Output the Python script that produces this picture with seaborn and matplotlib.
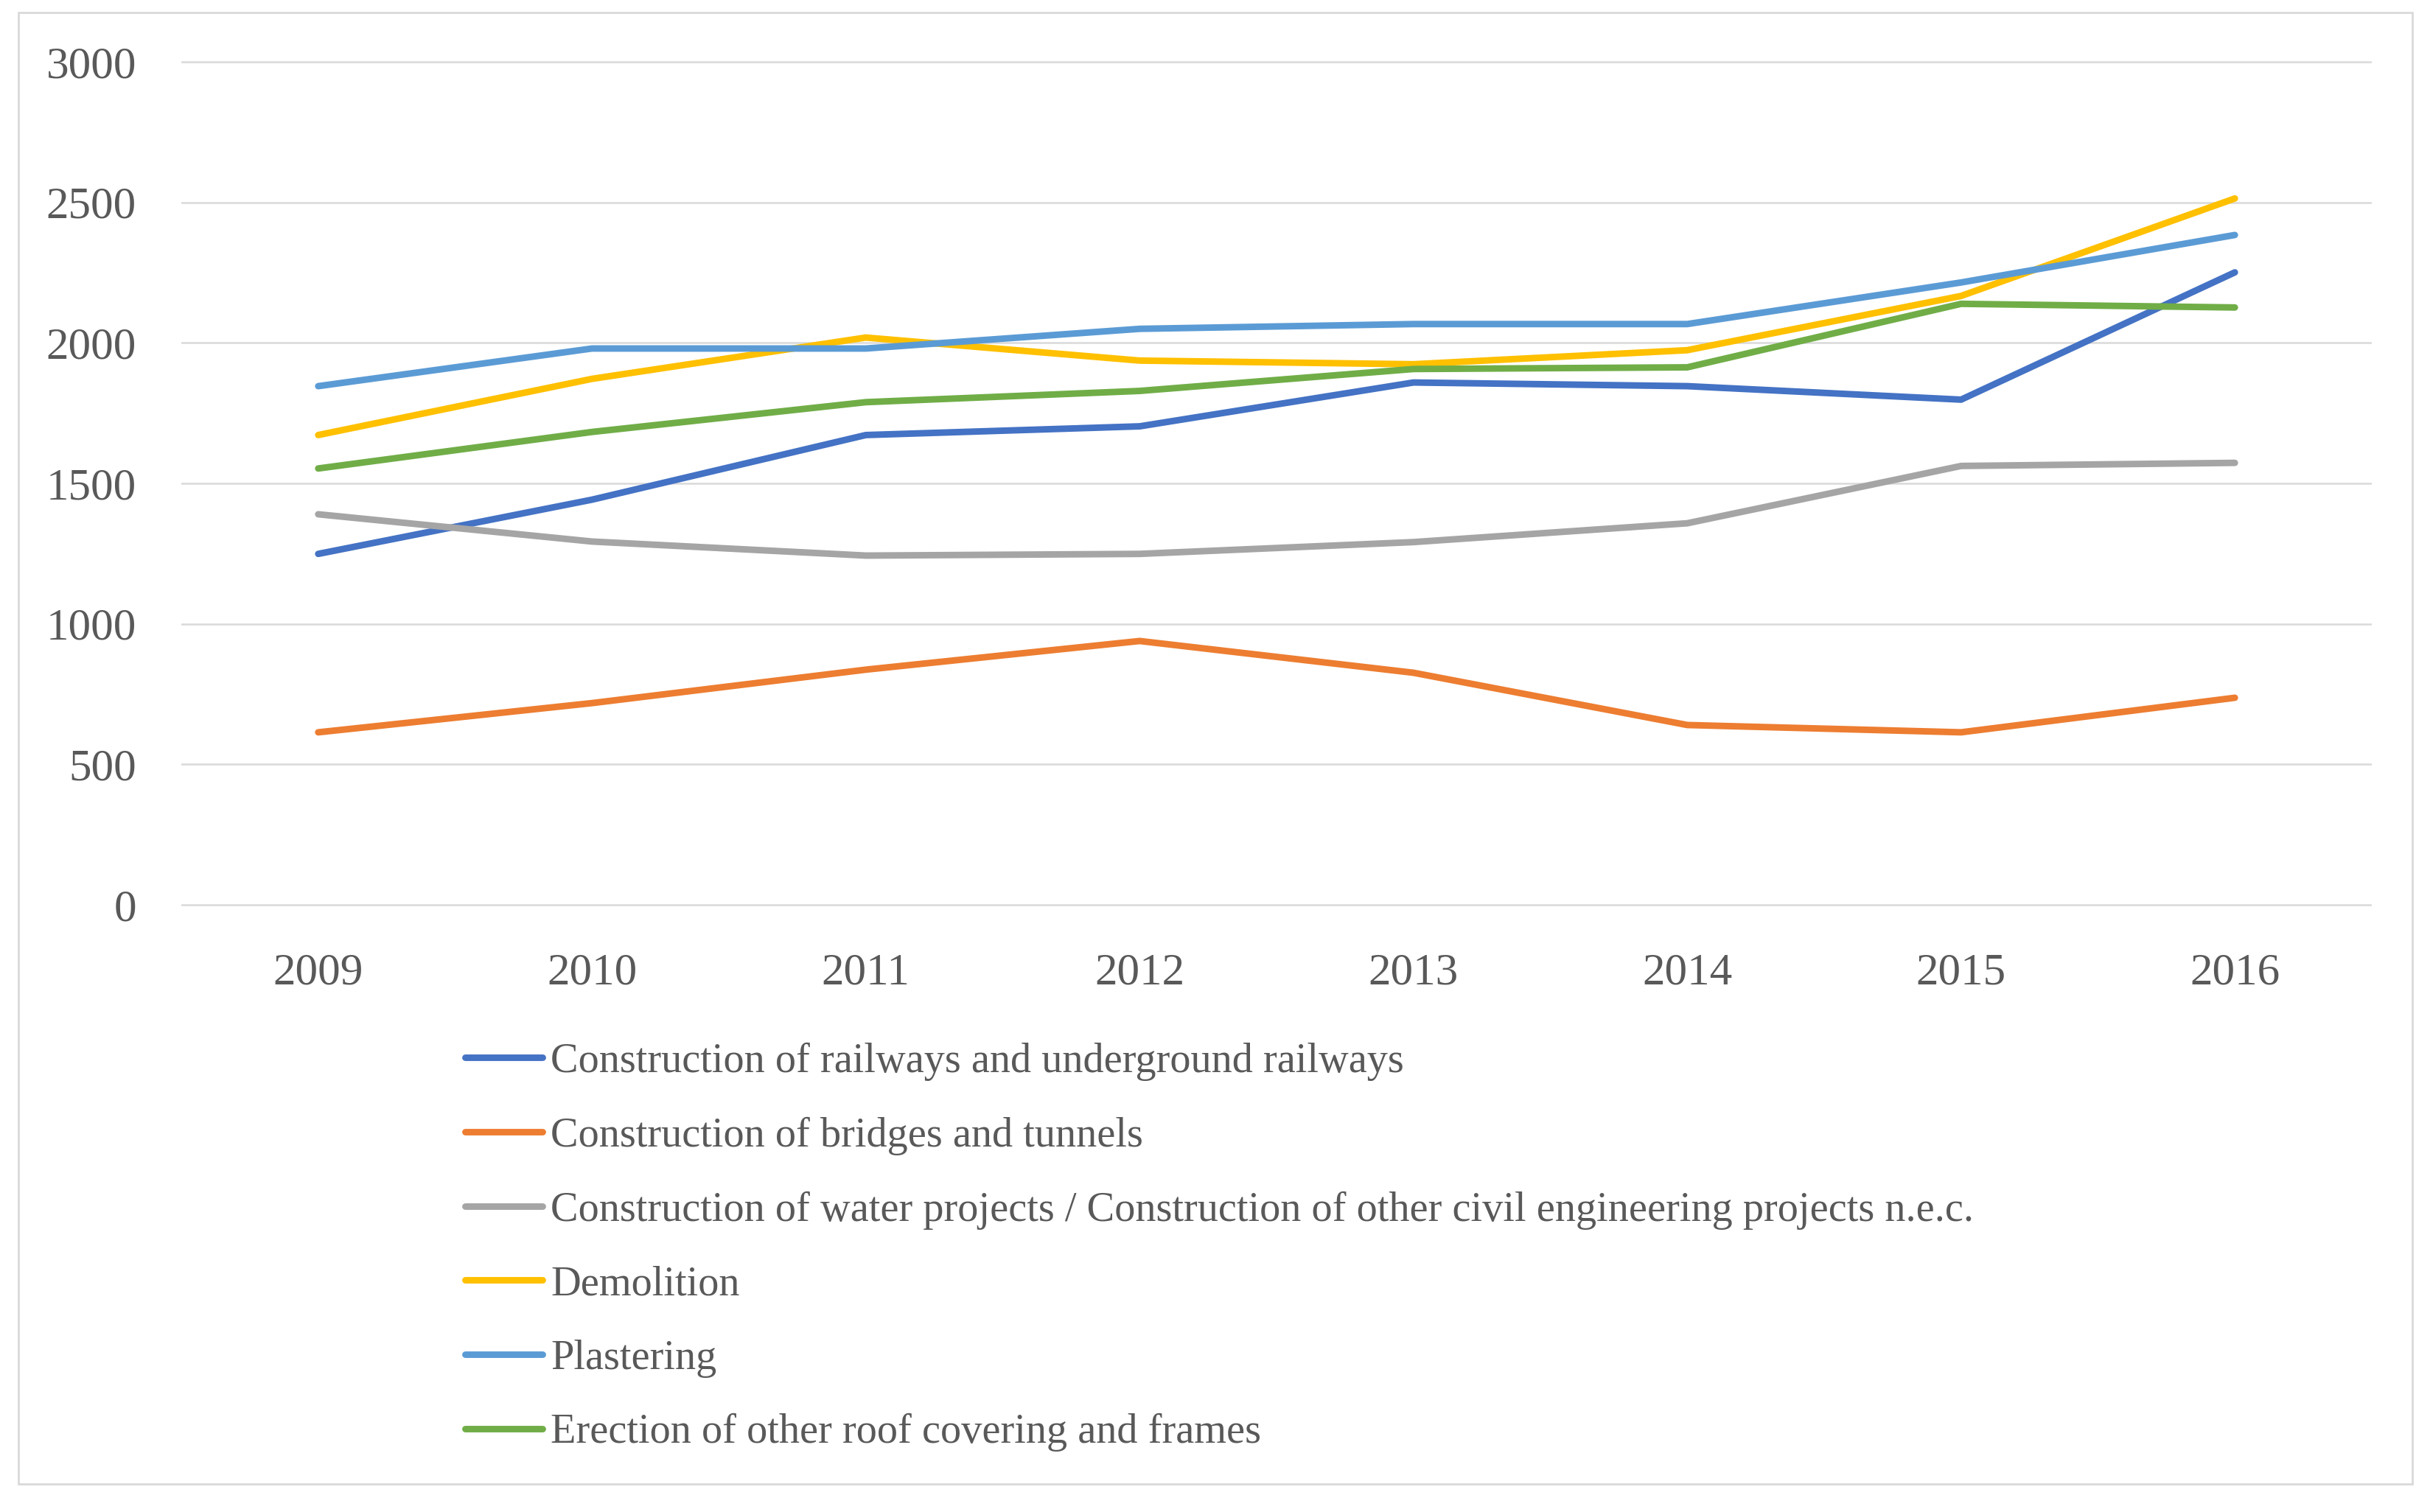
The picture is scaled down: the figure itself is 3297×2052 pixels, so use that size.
import matplotlib
matplotlib.use("Agg")
import matplotlib.pyplot as plt
import seaborn as sns
import pandas as pd
from matplotlib.patches import Rectangle

# ---- data ----
years = [2009, 2010, 2011, 2012, 2013, 2014, 2015, 2016]
series_names = [
    "Construction of railways and underground railways",
    "Construction of bridges and tunnels",
    "Construction of water projects / Construction of other civil engineering projects n.e.c.",
    "Demolition",
    "Plastering",
    "Erection of other roof covering and frames",
]
railways = [1249, 1442, 1672, 1703, 1859, 1846, 1798, 2251]
bridges = [614, 718, 837, 939, 826, 640, 614, 737]
water = [1390, 1293, 1243, 1249, 1291, 1358, 1562, 1573]
demolition = [1672, 1872, 2019, 1937, 1924, 1974, 2167, 2514]
plastering = [1846, 1980, 1980, 2050, 2067, 2067, 2215, 2384]
roof = [1553, 1683, 1789, 1829, 1907, 1913, 2139, 2126]
colors = ["#4472C4", "#ED7D31", "#A5A5A5", "#FFC000", "#5B9BD5", "#70AD47"]
y_ticks = [0, 500, 1000, 1500, 2000, 2500, 3000]

all_values = [railways, bridges, water, demolition, plastering, roof]
df = pd.DataFrame({
    "year": years * len(series_names),
    "value": [v for vals in all_values for v in vals],
    "series": [n for n in series_names for _ in years],
})

# ---- style ----
sns.set_theme(style="white")
plt.rcParams["font.family"] = ["Liberation Serif", "DejaVu Serif"]
plt.rcParams["lines.solid_capstyle"] = "round"
plt.rcParams["lines.solid_joinstyle"] = "round"

W, H = 3298, 2052
fig = plt.figure(figsize=(W / 200, H / 200), dpi=200)
fig.patch.set_facecolor("white")

top_px, bot_px = 78.3, 1233.7
ax = fig.add_axes([246 / W, 1 - bot_px / H, (3218 - 246) / W, (bot_px - top_px) / H])

sns.lineplot(data=df, x="year", y="value", hue="series", hue_order=series_names,
             palette=colors, linewidth=3.2, ax=ax, sort=False)

handles, labels = ax.get_legend_handles_labels()
ax.get_legend().remove()

ax.set_xlim(2008.5, 2016.5)
ax.set_ylim(-15, 3015)
ax.set_xticks(years)
ax.set_xticklabels([str(y) for y in years])
ax.set_yticks(y_ticks)
ax.set_xlabel("")
ax.set_ylabel("")
ax.grid(axis="y", color="#D9D9D9", linewidth=0.9)
ax.grid(axis="x", visible=False)
for s in ax.spines.values():
    s.set_visible(False)
ax.tick_params(axis="both", length=0, labelsize=22, colors="#595959")
ax.tick_params(axis="y", pad=22)
ax.tick_params(axis="x", pad=21.5)

for h in handles:
    h.set_linewidth(3.2)

fs = 20.3
fig.legend(handles, labels, loc="upper left",
           bbox_to_anchor=(631 / W, 1 - 1415 / H),
           frameon=False, borderpad=0, borderaxespad=0,
           handlelength=37.8 / fs, handletextpad=4.0 / fs, labelspacing=0.86,
           fontsize=fs, labelcolor="#595959")

fig.patches.append(Rectangle((25 / W, 1 - 2014 / H), (3273 - 25) / W, (2014 - 17) / H,
                             transform=fig.transFigure, fill=False,
                             edgecolor="#D9D9D9", linewidth=1.0))

fig.savefig("out.png", dpi=200, facecolor="white")
